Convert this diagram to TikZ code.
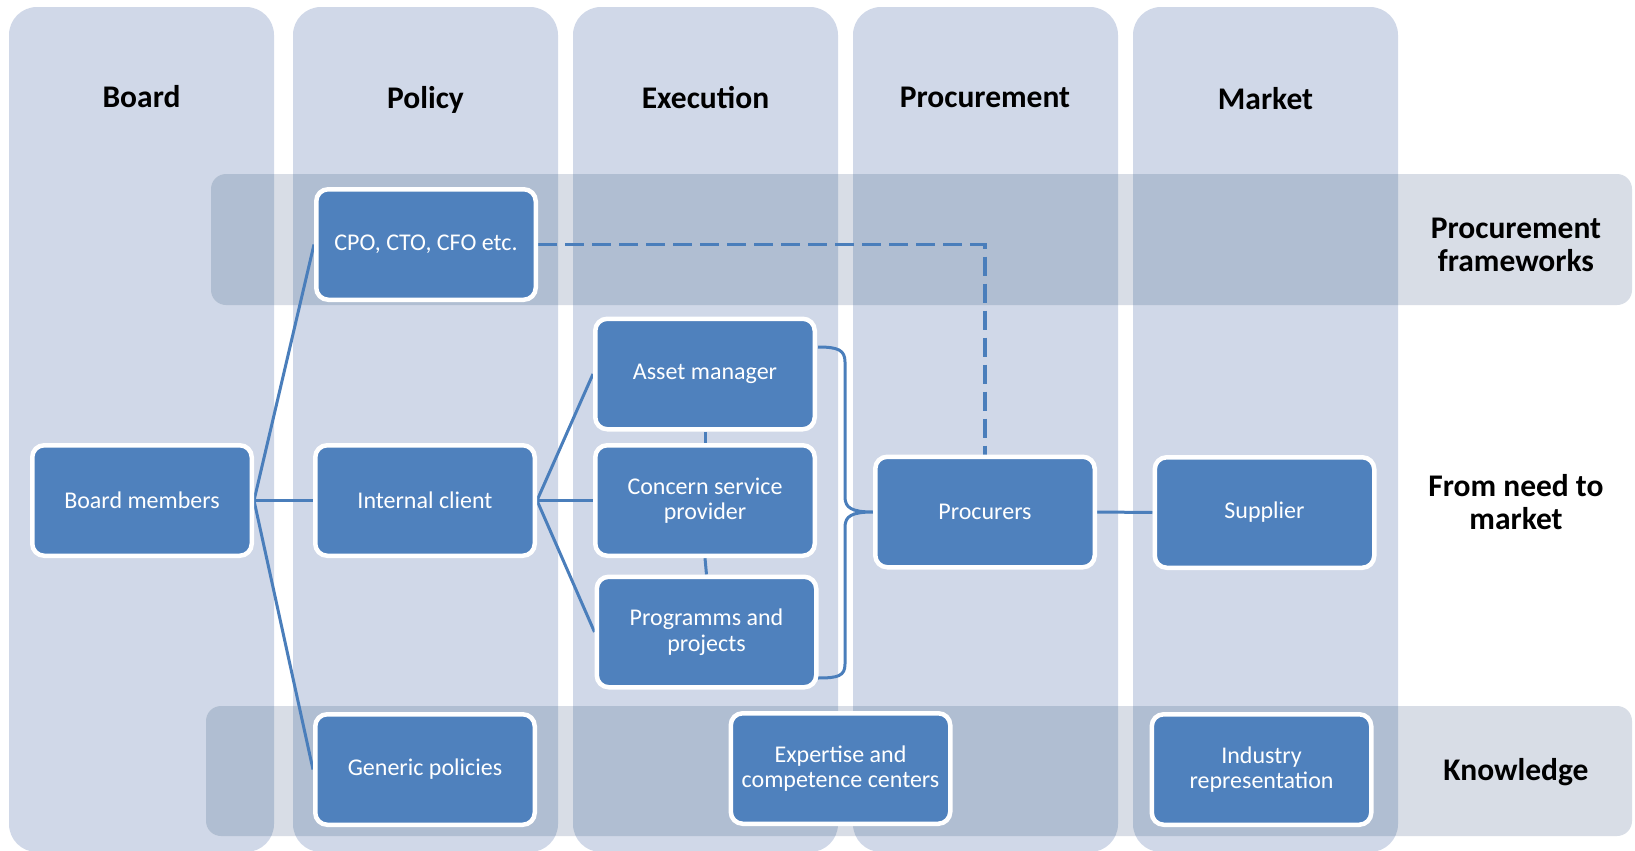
\documentclass[tikz,border=0pt]{standalone}
\usepackage{fontspec}
\setmainfont{Carlito}
\pgfdeclarelayer{back}
\pgfdeclarelayer{mid}
\pgfsetlayers{back,mid,main}
\definecolor{colfill}{RGB}{208,216,232}
\definecolor{bandfill}{RGB}{216,221,230}
\definecolor{bandover}{RGB}{176,190,210}
\definecolor{boxblue}{RGB}{79,129,189}
\definecolor{linkblue}{RGB}{74,126,187}
\begin{document}
\begin{tikzpicture}[x=0.5pt,y=-0.5pt,
 box/.style={draw=white, line width=2.25pt, fill=boxblue, rounded corners=6pt,
   minimum width=109.75pt, minimum height=55.25pt, inner sep=0pt, text=white,
   align=center, font=\fontsize{12pt}{12.75pt}\selectfont},
 title/.style={anchor=base, font=\fontsize{15.75pt}{16.75pt}\selectfont\bfseries, text=black, inner sep=0pt},
 side/.style={align=center, font=\fontsize{15.75pt}{16.75pt}\selectfont\bfseries, text=black, inner sep=0pt},
 link/.style={draw=linkblue, line width=1.5pt},
 dashlink/.style={draw=linkblue, line width=1.8pt, dash pattern=on 9.5pt off 4pt}]
\useasboundingbox (0,0) rectangle (1635,851);
\begin{pgfonlayer}{back}
\fill[white] (0,0) rectangle (1635,851);
\foreach \xa in {9,293,573,853,1133}
  \fill[colfill, rounded corners=14pt] (\xa,7) rectangle ++(265,845);
\fill[bandfill, rounded corners=7.5pt] (211,174) rectangle (1632,305);
\fill[bandfill, rounded corners=7.5pt] (206,706) rectangle (1632,836);
\begin{scope}
\clip[rounded corners=7.5pt] (211,174) rectangle (1632,305);
\foreach \xa in {9,293,573,853,1133}
  \fill[bandover, rounded corners=14pt] (\xa,7) rectangle ++(265,845);
\end{scope}
\begin{scope}
\clip[rounded corners=7.5pt] (206,706) rectangle (1632,836);
\foreach \xa in {9,293,573,853,1133}
  \fill[bandover, rounded corners=14pt] (\xa,7) rectangle ++(265,845);
\end{scope}
\end{pgfonlayer}

\node[title] (tb) at (141.5,107) {Board};
\node[title] (tp) at (425.5,108) {Policy};
\node[title] (te) at (705.5,108) {Execution};
\node[title] (tpr) at (985,107) {Procurement};
\node[title] (tm) at (1265.5,109) {Market};

\node[side] (lpf) at (1516,245) {Procurement\\frameworks};
\node[side] (lfn) at (1516,502) {From need to\\market};
\node[side] (lk) at (1516,772) {Knowledge};

\node[box] (cpo) at (426,244.5) {CPO, CTO, CFO etc.};
\node[box] (bm) at (142,500.5) {Board members};
\node[box] (ic) at (425,500.5) {Internal client};
\node[box] (gp) at (425,769.5) {Generic policies};
\node[box] (am) at (705,374) {Asset manager};
\node[box] (csp) at (705,500.5) {Concern service\\provider};
\node[box] (pp) at (706.5,632) {Programms and\\projects};
\node[box] (proc) at (985,512) {Procurers};
\node[box] (sup) at (1264.5,512.5) {Supplier};
\node[box] (ecc) at (840.5,768.5) {Expertise and\\competence centers};
\node[box] (ir) at (1261.5,769.5) {Industry\\representation};

\coordinate (bt) at (818,347);
\coordinate (bb) at (818,678);

\begin{pgfonlayer}{mid}
\draw[link] (bm.east) -- (cpo.west);
\draw[link] (bm.east) -- (ic.west);
\draw[link] (bm.east) -- (gp.west);
\draw[link] (ic.east) -- (am.west);
\draw[link] (ic.east) -- (csp.west);
\draw[link] (ic.east) -- (pp.west);
\draw[link] (am.south) -- (csp.north);
\draw[link] (csp.south) -- (pp.north);
\draw[link] (proc.east) -- (sup.west);
\draw[dashlink] (cpo.east) -| (proc.north);
\draw[link] (bt) .. controls (838,347) and (845,350) .. (845,362) -- (845,497)
  .. controls (845,508) and (852,512) .. (proc.west)
  .. controls (852,512) and (845,516) .. (845,527) -- (845,664)
  .. controls (845,676) and (838,678) .. (bb);
\end{pgfonlayer}
\end{tikzpicture}
\end{document}
